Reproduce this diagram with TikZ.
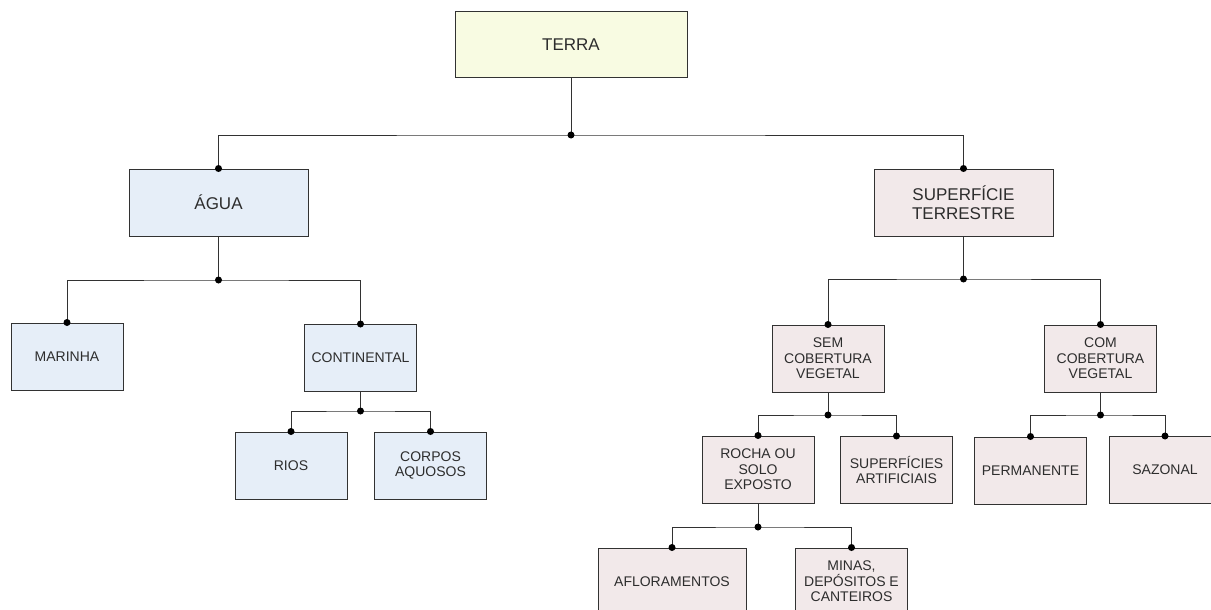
\documentclass[tikz,border=0pt]{standalone}
\usepackage{fontspec}
\setmainfont{Liberation Sans}
\usetikzlibrary{positioning}

\definecolor{linha}{RGB}{50,50,50}
\definecolor{texto}{RGB}{45,45,45}
\definecolor{fundoterra}{RGB}{248,251,226}
\definecolor{fundoagua}{RGB}{230,238,248}
\definecolor{fundosup}{RGB}{242,233,234}

\begin{document}
\begin{tikzpicture}[x=1pt,y=-1pt,
    box/.style={draw=linha,line width=1pt,inner sep=0pt,align=center,
                text=texto,minimum height=67pt,font=\fontsize{14}{15.5}\selectfont},
    big/.style={box,minimum width=179pt,font=\fontsize{17}{19}\selectfont},
    small/.style={box,minimum width=112pt},
    agua/.style={fill=fundoagua},
    sup/.style={fill=fundosup},
    link/.style={draw=linha,line width=1pt}]
\useasboundingbox (0,0) rectangle (1211,610);
\clip (0,0) rectangle (1211,610);

% nivel 0 e 1
\node[big,fill=fundoterra,minimum width=232pt,minimum height=66pt] (terra) at (571,45) {TERRA};
\node[big,agua] (agua) at (218.5,202.5) {ÁGUA};
\node[big,sup] (superf) at (963.5,202.5) {SUPERFÍCIE\\TERRESTRE};

% agua
\node[small,agua] (marinha) at (67,356.5) {MARINHA};
\node[small,agua] (contin) at (360.5,358) {CONTINENTAL};
\node[small,agua] (rios) at (291,465.5) {RIOS};
\node[small,agua] (corpos) at (430.5,465.5) {CORPOS\\AQUOSOS};

% superficie terrestre
\node[small,sup] (semcob) at (828,358.5) {SEM\\COBERTURA\\VEGETAL};
\node[small,sup] (comcob) at (1100.5,358.5) {COM\\COBERTURA\\VEGETAL};
\node[small,sup] (rocha) at (758,469.5) {ROCHA OU\\SOLO\\EXPOSTO};
\node[small,sup] (artif) at (896.5,470) {SUPERFÍCIES\\ARTIFICIAIS};
\node[small,sup] (perm) at (1030.5,470.5) {PERMANENTE};
\node[small,sup] (sazonal) at (1165,470) {SAZONAL};
\node[small,sup,minimum width=148pt] (aflor) at (672,581.5) {AFLORAMENTOS};
\node[small,sup] (minas) at (851.5,581.5) {MINAS,\\DEPÓSITOS E\\CANTEIROS};

% juncoes
\coordinate (jterra) at (571,135);
\coordinate (jagua) at (218.5,280);
\coordinate (jsuperf) at (963.5,279);
\coordinate (jcontin) at (360.5,411);
\coordinate (jsemcob) at (828,415);
\coordinate (jcomcob) at (1100.5,415);
\coordinate (jrocha) at (758,527);

% ligacoes
\foreach \pai/\a/\b in {terra/agua/superf, agua/marinha/contin, contin/rios/corpos,
                        superf/semcob/comcob, semcob/rocha/artif, comcob/perm/sazonal,
                        rocha/aflor/minas}
{
  \draw[link] (\pai.south) -- (j\pai);
  \draw[link] (\a.north) |- (j\pai) -| (\b.north);
  \fill[black] (j\pai) circle (3.5pt) (\a.north) circle (3.5pt) (\b.north) circle (3.5pt);
}
\end{tikzpicture}
\end{document}
